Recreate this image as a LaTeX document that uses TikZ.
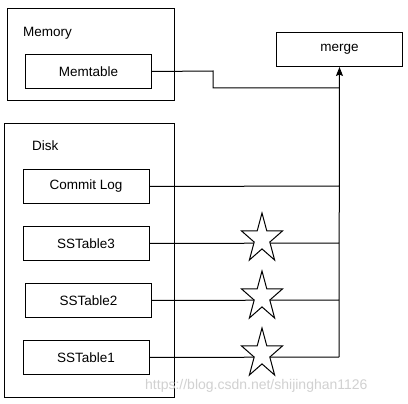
\documentclass[tikz,border=0pt]{standalone}
\usepackage{fontspec}
\setmainfont{Liberation Sans}
\usetikzlibrary{arrows.meta}
\tikzset{
  box/.style={draw, line width=1pt, inner sep=0pt, anchor=north west},
  lbl/.style={font=\fontsize{13.5}{15}\selectfont, anchor=west, inner sep=0pt},
  conn/.style={line width=1pt},
  mystar/.pic={\draw[line width=1pt, fill=white, x=21.5pt, y=26pt, line join=miter]
    (0,1) -- (-0.2245,0.309) -- (-0.951,0.309) -- (-0.3633,-0.118) -- (-0.5878,-0.809)
    -- (0,-0.382) -- (0.5878,-0.809) -- (0.3633,-0.118) -- (0.951,0.309) -- (0.2245,0.309) -- cycle;}
}
\begin{document}
\begin{tikzpicture}[x=1pt,y=-1pt]
\useasboundingbox (0,0) rectangle (408,404);
\fill[white] (0,0) rectangle (408,404);
% containers
\node[box, minimum width=167pt, minimum height=92pt] (memory) at (6.5,8) {};
\node[lbl] (memlbl) at (23,33) {Memory};
\node[box, minimum width=170pt, minimum height=274pt] (disk) at (4,123) {};
\node[lbl] (disklbl) at (32,146) {Disk};
% inner boxes
\tikzset{tb/.style={box, minimum width=126pt, minimum height=34pt, font=\fontsize{13.5}{15}\selectfont}}
\node[tb] (memtable) at (25,54) {Memtable};
\node[tb] (commitlog) at (22.5,169) {Commit Log};
\node[tb] (ss3) at (22.5,226) {SSTable3};
\node[tb] (ss2) at (25,283) {SSTable2};
\node[tb] (ss1) at (22.5,340) {SSTable1};
\node[tb] (merge) at (276,32) {merge};
% connectors
\coordinate (jm) at (339,88);
\coordinate (jc) at (339,186);
\coordinate (j3) at (339,243);
\coordinate (j2) at (339,300);
\coordinate (j1) at (339,357);
\draw[conn] (memtable.east) -- (213,71) -- (213,88) -- (jm);
\draw[conn] (commitlog.east) -- (jc);
\draw[conn] (ss3.east) -- (j3);
\draw[conn] (ss2.east) -- (j2);
\draw[conn] (ss1.east) -- (j1);
\draw[conn, -{Stealth[length=9pt, width=7pt, inset=1.5pt]}] (j1) -- (merge.south);
% stars
\pic at (262,239) {mystar};
\pic at (262,297) {mystar};
\pic at (262,354) {mystar};
% watermark
\node[font=\fontsize{14}{16}\selectfont, text=black!18, anchor=west, inner sep=0pt] (wm) at (145,386) {https://blog.csdn.net/shijinghan1126};
\end{tikzpicture}
\end{document}
